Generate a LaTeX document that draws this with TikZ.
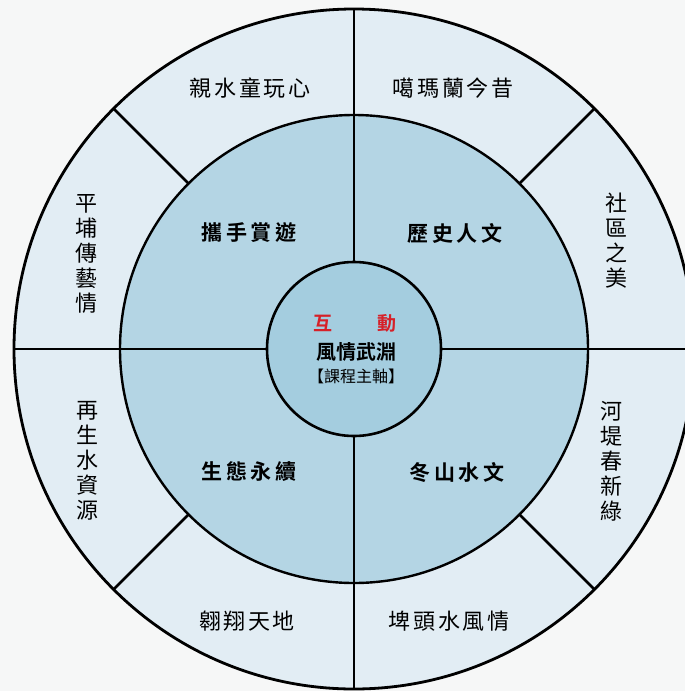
\documentclass[tikz,border=0pt]{standalone}
\usepackage{fontspec}
\usepackage{tikz}
\usetikzlibrary{calc}
\newfontfamily\cjk{Noto Sans CJK TC}
\newfontfamily\cjkb{Noto Sans CJK TC Bold}
\definecolor{ringout}{RGB}{226,237,244}
\definecolor{ringmid}{RGB}{180,213,228}
\definecolor{ringin}{RGB}{164,205,223}
\definecolor{paper}{RGB}{246,247,247}
\definecolor{hudong}{RGB}{214,32,40}
\tikzset{
  outlabel/.style={font=\cjk\fontsize{22}{25}\selectfont\addfontfeature{LetterSpace=12}},
  vlabel/.style={font=\cjk\fontsize{22}{25}\selectfont, align=center, inner sep=0pt},
  midlabel/.style={font=\cjkb\fontsize{21}{24}\selectfont\addfontfeature{LetterSpace=16}},
}

\begin{document}
\begin{tikzpicture}[x=1pt,y=-1pt] 
\useasboundingbox[fill=paper] (0,0) rectangle (685,691);
\clip (0,0) rectangle (685,691);
\coordinate (o) at (354,349);
\fill[ringout] (o) circle (340);
\fill[ringmid] (o) circle (234);
\fill[ringin] (o) circle (87);
\foreach \a in {45,135,225,315} {
\draw[line width=2.6pt] ($(o)+(\a:234)$) -- ($(o)+(\a:340)$);
}
\foreach \a in {0,90,180,270} {
\draw[line width=2.6pt] ($(o)+(\a:87)$) -- ($(o)+(\a:340)$);
}
\draw[line width=2.8pt] (o) circle (340);
\draw[line width=2.4pt] (o) circle (234);
\draw[line width=2.6pt] (o) circle (87);
% outer ring
\node[outlabel] (qinshui) at (250,88) {親水童玩心};
\node[outlabel] (gamalan) at (453,88) {噶瑪蘭今昔};
\node[outlabel] (aoxiang) at (247,621) {翱翔天地};
\node[outlabel] (pitou) at (449,621) {埤頭水風情};
\node[vlabel] (pingpu) at (86,254) {平\\埔\\傳\\藝\\情};
\node[vlabel] (zaisheng) at (87,461) {再\\生\\水\\資\\源};
\node[vlabel] (shequ) at (616,241) {社\\區\\之\\美};
\node[vlabel] (hedi) at (611,461) {河\\堤\\春\\新\\綠};
% middle ring
\node[midlabel] (xieshou) at (249,233) {攜手賞遊};
\node[midlabel] (lishi) at (455,233) {歷史人文};
\node[midlabel] (shengtai) at (249,472) {生態永續};
\node[midlabel] (dongshan) at (457,473) {冬山水文};
% center
\node[font=\cjkb\fontsize{19}{20}\selectfont, text=hudong] (hu) at (323,323) {互};
\node[font=\cjkb\fontsize{19}{20}\selectfont, text=hudong] (dong) at (387,323) {動};
\node[font=\cjkb\fontsize{20}{22}\selectfont] (fengqing) at (356,352) {風情武淵};
\node[font=\cjk\fontsize{16}{18}\selectfont] (zhuzhou) at (356,376) {【課程主軸】};
\end{tikzpicture}
\end{document}
